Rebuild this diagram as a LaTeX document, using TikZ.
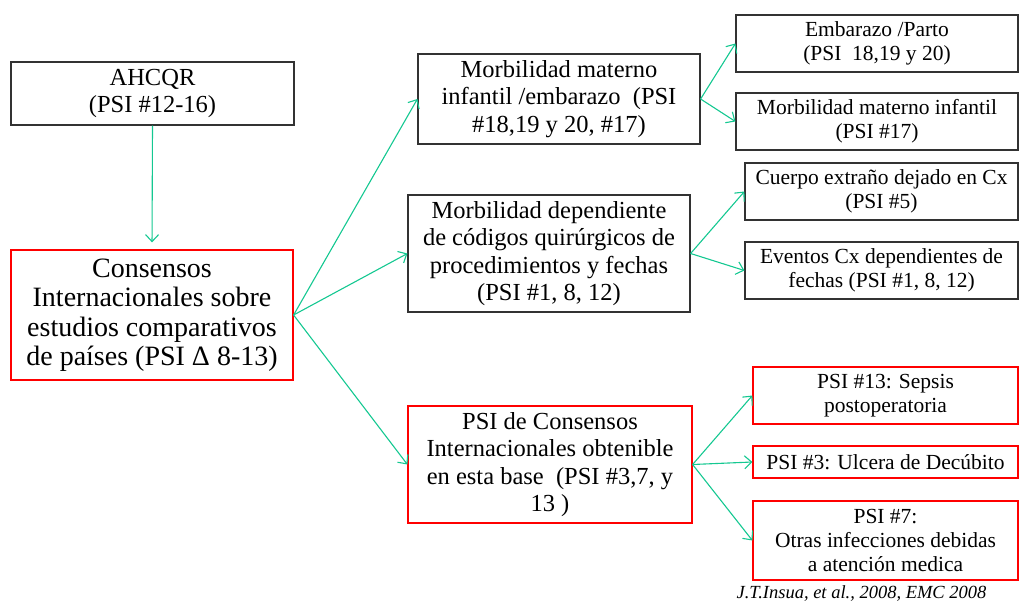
\documentclass[tikz,border=0pt]{standalone}
\usepackage{fontspec}
\setmainfont{Liberation Serif}
\usetikzlibrary{arrows.meta}
\definecolor{linkgreen}{RGB}{20,200,145}
\definecolor{boxgray}{RGB}{50,50,50}

\begin{document}
\begin{tikzpicture}[x=1pt,y=-1pt,
  box/.style={draw=boxgray, line width=1.2pt, align=center, inner sep=0pt},
  redbox/.style={box, draw=red},
  link/.style={draw=linkgreen, line width=1.1pt, -{Straight Barb[length=7pt,width=13pt]}},
  bigtext/.style={font=\fontsize{28}{29.5}\selectfont},
  midtext/.style={font=\fontsize{24.5}{27.5}\selectfont},
  smalltext/.style={font=\fontsize{21.5}{24}\selectfont}]
\useasboundingbox (0,0) rectangle (1019,604);
% left column
\node[box, midtext, minimum width=283pt, minimum height=63pt] (ahcqr) at (152.5,93.5) {AHCQR\\(PSI \#12-16)};
\node[redbox, bigtext, minimum width=282pt, minimum height=130pt] (cons) at (152,315)
  {Consensos\\Internacionales sobre\\estudios comparativos\\de países (PSI Δ 8-13)};
% middle column
\node[box, midtext, minimum width=282pt, minimum height=90pt] (mmat) at (559,99)
  {Morbilidad materno\\infantil /embarazo~ (PSI\\\#18,19 y 20, \#17)};
\node[box, midtext, minimum width=282pt, minimum height=117pt] (mdep) at (549,253.5)
  {Morbilidad dependiente\\de códigos quirúrgicos de\\procedimientos y fechas\\(PSI \#1, 8, 12)};
\node[redbox, midtext, minimum width=284pt, minimum height=117pt] (psi) at (550,464.5)
  {PSI de Consensos\\Internacionales obtenible\\en esta base~ (PSI \#3,7, y\\13 )};
% right column
\node[box, smalltext, minimum width=282pt, minimum height=57pt] (emb) at (877,43.5)
  {Embarazo /Parto\\(PSI~ 18,19 y 20)};
\node[box, smalltext, minimum width=282pt, minimum height=57pt] (mmi) at (877,121.5)
  {Morbilidad materno infantil\\(PSI \#17)};
\node[box, smalltext, minimum width=273pt, minimum height=57pt] (cue) at (881.5,191.5)
  {Cuerpo extraño dejado en Cx\\(PSI \#5)};
\node[box, smalltext, minimum width=273pt, minimum height=57pt] (eve) at (881.5,270.5)
  {Eventos Cx dependientes de\\fechas (PSI \#1, 8, 12)};
\node[redbox, smalltext, minimum width=265pt, minimum height=57pt] (p13) at (885.5,395.5)
  {PSI \#13: Sepsis\\postoperatoria};
\node[redbox, smalltext, minimum width=265pt, minimum height=32pt] (p3) at (885.5,462)
  {PSI \#3: Ulcera de Decúbito};
\node[redbox, smalltext, minimum width=265pt, minimum height=79pt] (p7) at (885.5,540.5)
  {PSI \#7:\\Otras infecciones debidas\\a atención medica};
\node[font=\fontsize{18.5}{20}\selectfont\itshape, anchor=base, inner sep=0pt] (cite) at (861.5,598) {J.T.Insua, et al., 2008, EMC 2008};
% connectors
\draw[link, shorten >=7pt] (ahcqr.south) -- (cons.north);
\draw[link] (cons.east) -- (mmat.west);
\draw[link] (cons.east) -- (mdep.west);
\draw[link] (cons.east) -- (psi.west);
\draw[link] (mmat.east) -- (emb.west);
\draw[link] (mmat.east) -- (mmi.west);
\draw[link] (mdep.east) -- (cue.west);
\draw[link] (mdep.east) -- (eve.west);
\draw[link] (psi.east) -- (p13.west);
\draw[link] (psi.east) -- (p3.west);
\draw[link] (psi.east) -- (p7.west);
\end{tikzpicture}
\end{document}
